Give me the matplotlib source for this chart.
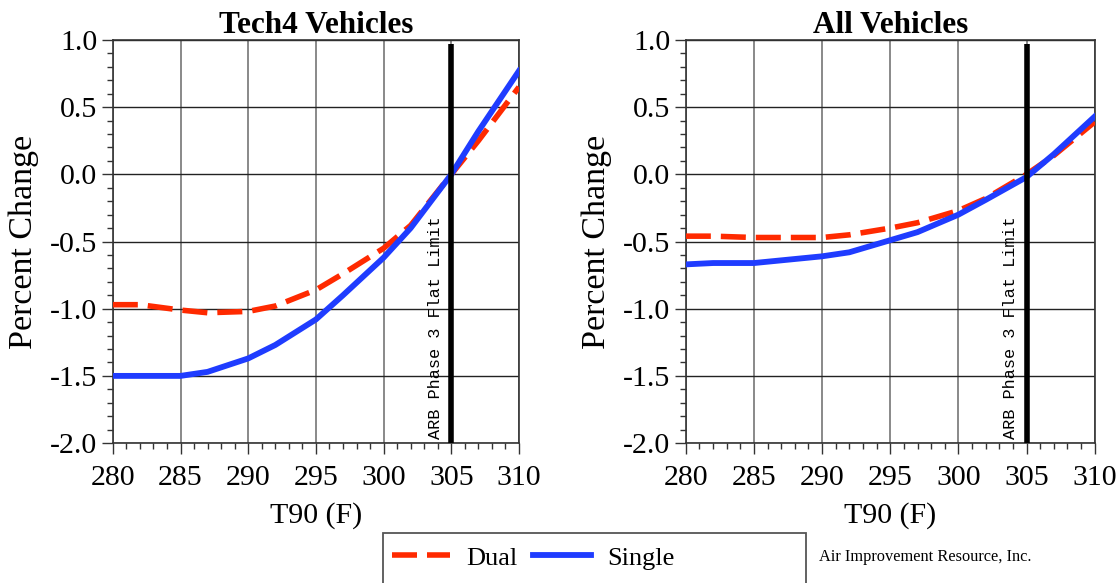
import matplotlib
matplotlib.use("Agg")
import matplotlib.pyplot as plt
from matplotlib.patches import Rectangle
from matplotlib.ticker import MultipleLocator

plt.rcParams['font.family'] = ['Liberation Serif', 'DejaVu Serif']

t90 = [280, 282, 285, 287, 290, 292, 295, 297, 300, 302, 305, 307, 310]

tech4_dual = [-0.97, -0.97, -1.01, -1.03, -1.02, -0.98, -0.86, -0.74, -0.55, -0.38, 0.0, 0.25, 0.65]
tech4_single = [-1.50, -1.50, -1.50, -1.47, -1.37, -1.27, -1.08, -0.90, -0.62, -0.40, 0.0, 0.32, 0.77]

all_dual = [-0.46, -0.46, -0.47, -0.47, -0.47, -0.45, -0.40, -0.36, -0.27, -0.18, 0.0, 0.14, 0.39]
all_single = [-0.67, -0.66, -0.66, -0.64, -0.61, -0.58, -0.49, -0.43, -0.30, -0.19, -0.02, 0.15, 0.43]

titles = ['Tech4 Vehicles', 'All Vehicles']
limit_t90 = 305
limit_top = 0.97
limit_label = 'ARB Phase 3 Flat Limit'

red = '#ff2a00'
blue = '#1f3cff'

fig = plt.figure(figsize=(11.17, 5.83), dpi=100)
ax1 = fig.add_axes([0.101, 0.240, 0.3636, 0.6914])
ax2 = fig.add_axes([0.614, 0.240, 0.366, 0.6914])

for ax, title, dual, single in [(ax1, titles[0], tech4_dual, tech4_single),
                                (ax2, titles[1], all_dual, all_single)]:
    ax.set_xlim(280, 310)
    ax.set_ylim(-2.0, 1.0)
    ax.xaxis.set_major_locator(MultipleLocator(5))
    ax.xaxis.set_minor_locator(MultipleLocator(1))
    ax.yaxis.set_major_locator(MultipleLocator(0.5))
    ax.yaxis.set_minor_locator(MultipleLocator(0.1))
    ax.yaxis.set_major_formatter(lambda v, p: f'{v:.1f}')
    ax.grid(True, axis='x', color='#808080', lw=1.3)
    ax.grid(True, axis='y', color='#222222', lw=1.0)
    ax.set_axisbelow(True)
    ax.tick_params(which='major', direction='out', length=8, width=1, labelsize=21.5,
                   color='#333333', pad=3)
    ax.tick_params(axis='x', which='major', pad=8)
    ax.tick_params(which='minor', direction='out', length=4, width=1, color='#333333')
    for s in ax.spines.values():
        s.set_color('#333333')
        s.set_linewidth(1.2)

    ax.plot(t90, dual, color=red, lw=4, dashes=(4.5, 1.8), label='Dual', zorder=3)
    ax.plot(t90, single, color=blue, lw=4.2, label='Single', zorder=3)
    ax.plot([limit_t90, limit_t90], [-2.0, limit_top], color='black', lw=4, zorder=4,
            solid_capstyle='butt', clip_on=False)
    ax.annotate(limit_label, xy=(limit_t90, -2.0), xytext=(-6, 3), textcoords='offset points',
                rotation=90, ha='right', va='bottom', fontsize=12.2,
                family=['Liberation Mono', 'DejaVu Sans Mono'])

    ax.set_title(title, fontsize=22.5, fontweight='bold', pad=3)
    ax.set_xlabel('T90 (F)', fontsize=21.5, labelpad=8)
    ax.set_ylabel('Percent Change', fontsize=24.5, labelpad=8)

# legend box (wider than its content, as in the original)
fig.patches.append(Rectangle((383 / 1117, -0.01), 423 / 1117, 0.0958, transform=fig.transFigure,
                             fill=False, edgecolor='#555555', lw=1.3))
handles, labels = ax1.get_legend_handles_labels()
fig.legend(handles, labels, loc='center left', bbox_to_anchor=(392 / 1117, 0.043), ncol=2,
           fontsize=19, frameon=False, handlelength=2.2, columnspacing=0.6,
           handletextpad=0.6, borderpad=0, borderaxespad=0)

fig.text(0.733, 0.044, 'Air Improvement Resource, Inc.', fontsize=11.8, ha='left', va='center')

fig.savefig('out.png', dpi=100)
